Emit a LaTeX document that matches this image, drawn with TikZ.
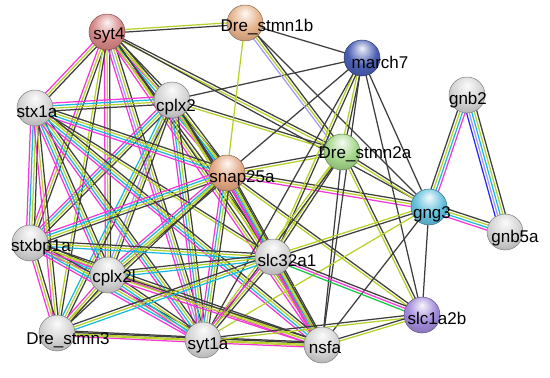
\documentclass[tikz,border=0pt]{standalone}
\usepackage{fontspec}
\setmainfont{Liberation Sans}
\usetikzlibrary{calc}
\definecolor{cx}{RGB}{62,62,62}
\definecolor{tm}{RGB}{182,210,40}
\definecolor{ex}{RGB}{245,55,215}
\definecolor{db}{RGB}{25,185,220}
\definecolor{hm}{RGB}{160,155,250}
\definecolor{nb}{RGB}{20,200,70}
\definecolor{co}{RGB}{40,40,240}
\definecolor{cRed}{RGB}{215,135,135}
\definecolor{cTan}{RGB}{230,178,138}
\definecolor{cNavy}{RGB}{75,95,180}
\definecolor{cGreen}{RGB}{165,215,140}
\definecolor{cPeach}{RGB}{228,168,132}
\definecolor{cCyan}{RGB}{100,192,222}
\definecolor{cPurple}{RGB}{162,138,218}
\definecolor{cGray}{RGB}{212,212,212}
\colorlet{sphcol}{cGray}
\pgfdeclareradialshading[sphcol]{sphere}{\pgfpoint{0bp}{14bp}}{%
  color(0bp)=(sphcol!8!white);
  color(8bp)=(sphcol!45!white);
  color(20bp)=(sphcol);
  color(30bp)=(sphcol!88!black);
  color(40bp)=(sphcol!74!black);
  color(50bp)=(sphcol!62!black);
  color(64bp)=(sphcol!58!black)}
\pgfdeclarelayer{bg}
\pgfsetlayers{bg,main}
\newcommand\lnk[3]{%
  \foreach \ecol [count=\ei] in {#3} {\global\let\enn\ei}%
  \foreach \ecol [count=\ei] in {#3} {%
    \pgfmathsetmacro\eoff{(\ei-(\enn+1)/2)*2.6}%
    \draw[line width=1.25pt,color=\ecol] ($(#1.center)!\eoff pt!90:(#2.center)$) -- ($(#2.center)!\eoff pt!-90:(#1.center)$);%
  }%
}
\begin{document}
\begin{tikzpicture}[x=1pt,y=-1pt,
  sph/.style={circle,minimum size=36pt,inner sep=0pt,shading=sphere,/utils/exec={\colorlet{sphcol}{#1}},draw=#1!60!black,line width=0.5pt},
  lbl/.style={font=\fontsize{17}{17}\selectfont,inner sep=0pt,text=black}]
\useasboundingbox (0,0) rectangle (550,378);
% nodes (spheres)
\node[sph=cRed]    (syt4)    at (107,32)  {};
\node[sph=cTan]    (stmn1b)  at (245,23)  {};
\node[sph=cNavy]   (march7)  at (362,58)  {};
\node[sph=cGray]   (gnb2)    at (467,95)  {};
\node[sph=cGray]   (stx1a)   at (35,108)  {};
\node[sph=cGray]   (cplx2)   at (172,100) {};
\node[sph=cGreen]  (stmn2a)  at (342,152) {};
\node[sph=cPeach]  (snap25a) at (227,173) {};
\node[sph=cCyan]   (gng3)    at (429,207) {};
\node[sph=cGray]   (gnb5a)   at (505,232) {};
\node[sph=cGray]   (slc32a1) at (273,257) {};
\node[sph=cGray]   (stxbp1a) at (30,243)  {};
\node[sph=cGray]   (cplx2l)  at (108,275) {};
\node[sph=cGray]   (stmn3)   at (57,333)  {};
\node[sph=cGray]   (syt1a)   at (203,340) {};
\node[sph=cGray]   (nsfa)    at (322,345) {};
\node[sph=cPurple] (slc1a2b) at (422,315) {};
% labels
\node[lbl] (t-syt4)    at (109,35)  {syt4};
\node[lbl] (t-stmn1b)  at (267,27)  {Dre\_stmn1b};
\node[lbl] (t-march7)  at (380,62)  {march7};
\node[lbl] (t-gnb2)    at (468,100) {gnb2};
\node[lbl] (t-stx1a)   at (37,112)  {stx1a};
\node[lbl] (t-cplx2)   at (176,107) {cplx2};
\node[lbl] (t-stmn2a)  at (365,154) {Dre\_stmn2a};
\node[lbl] (t-snap25a) at (242,178) {snap25a};
\node[lbl] (t-gng3)    at (432,214) {gng3};
\node[lbl] (t-gnb5a)   at (515,238) {gnb5a};
\node[lbl] (t-slc32a1) at (287,260) {slc32a1};
\node[lbl] (t-stxbp1a) at (41,247)  {stxbp1a};
\node[lbl] (t-cplx2l)  at (114,278) {cplx2l};
\node[lbl] (t-stmn3)   at (68,340)  {Dre\_stmn3};
\node[lbl] (t-syt1a)   at (208,345) {syt1a};
\node[lbl] (t-nsfa)    at (325,347) {nsfa};
\node[lbl] (t-slc1a2b) at (437,318) {slc1a2b};
% edges
\begin{pgfonlayer}{bg}
\lnk{syt4}{stmn1b}{cx,tm}
\lnk{syt4}{stx1a}{ex,tm,cx}
\lnk{syt4}{cplx2}{ex,tm,cx}
\lnk{syt4}{snap25a}{ex,db,tm,cx}
\lnk{syt4}{stxbp1a}{ex,tm,cx}
\lnk{syt4}{cplx2l}{ex,tm,cx}
\lnk{syt4}{stmn3}{tm,cx}
\lnk{syt4}{syt1a}{ex,hm,tm,cx}
\lnk{syt4}{slc32a1}{tm,cx}
\lnk{syt4}{nsfa}{ex,tm,cx}
\lnk{syt4}{stmn2a}{tm,cx}
\lnk{syt4}{gng3}{cx}
\lnk{cplx2}{stx1a}{ex,db,tm,cx}
\lnk{cplx2}{snap25a}{ex,db,tm,cx}
\lnk{cplx2}{march7}{cx}
\lnk{cplx2}{stmn2a}{tm,cx}
\lnk{cplx2}{stxbp1a}{ex,db,tm,cx}
\lnk{cplx2}{cplx2l}{hm,tm,cx}
\lnk{cplx2}{syt1a}{ex,db,tm,cx}
\lnk{cplx2}{slc32a1}{tm,cx}
\lnk{cplx2}{stmn3}{db,tm,cx}
\lnk{cplx2}{nsfa}{tm,cx}
\lnk{stx1a}{snap25a}{ex,db,tm,cx}
\lnk{stx1a}{stxbp1a}{ex,db,tm,cx}
\lnk{stx1a}{cplx2l}{ex,db,tm,cx}
\lnk{stx1a}{stmn3}{ex,tm,cx}
\lnk{stx1a}{syt1a}{ex,db,tm,cx}
\lnk{stx1a}{slc32a1}{tm,cx}
\lnk{stx1a}{nsfa}{ex,db,tm,cx}
\lnk{snap25a}{stmn1b}{tm}
\lnk{snap25a}{march7}{cx}
\lnk{snap25a}{stmn2a}{tm,cx}
\lnk{snap25a}{gng3}{ex,tm,cx}
\lnk{snap25a}{stxbp1a}{ex,db,tm,cx}
\lnk{snap25a}{cplx2l}{ex,db,tm,cx}
\lnk{snap25a}{stmn3}{tm,cx}
\lnk{snap25a}{syt1a}{ex,db,tm,cx}
\lnk{snap25a}{slc32a1}{ex,tm,cx}
\lnk{snap25a}{nsfa}{ex,db,tm,cx}
\lnk{snap25a}{slc1a2b}{tm,cx}
\lnk{stmn1b}{march7}{cx}
\lnk{stmn1b}{stmn2a}{hm,tm,cx}
\lnk{stmn1b}{gng3}{cx}
\lnk{march7}{stmn2a}{tm,cx}
\lnk{march7}{slc32a1}{tm,cx}
\lnk{march7}{syt1a}{cx}
\lnk{march7}{nsfa}{cx}
\lnk{march7}{gng3}{cx}
\lnk{march7}{slc1a2b}{cx}
\lnk{stmn2a}{gng3}{tm,cx}
\lnk{stmn2a}{slc32a1}{tm,cx}
\lnk{stmn2a}{syt1a}{tm,cx}
\lnk{stmn2a}{nsfa}{cx}
\lnk{stmn2a}{slc1a2b}{tm,cx}
\lnk{gng3}{gnb2}{ex,db,tm,cx}
\lnk{gng3}{gnb5a}{ex,db,tm,cx}
\lnk{gnb2}{gnb5a}{co,hm,db,tm,cx}
\lnk{gng3}{slc32a1}{tm,cx}
\lnk{gng3}{nsfa}{cx}
\lnk{gng3}{slc1a2b}{cx}
\lnk{gng3}{syt1a}{tm}
\lnk{stxbp1a}{cplx2l}{ex,db,tm,cx}
\lnk{stxbp1a}{stmn3}{ex,tm,cx}
\lnk{stxbp1a}{syt1a}{ex,db,tm,cx}
\lnk{stxbp1a}{slc32a1}{db,tm,cx}
\lnk{stxbp1a}{nsfa}{ex,tm,cx}
\lnk{cplx2l}{stmn3}{ex,tm,cx}
\lnk{cplx2l}{syt1a}{ex,db,tm,cx}
\lnk{cplx2l}{slc32a1}{db,tm,cx}
\lnk{cplx2l}{nsfa}{ex,tm,cx}
\lnk{stmn3}{syt1a}{ex,tm,cx}
\lnk{stmn3}{slc32a1}{db,tm,cx}
\lnk{stmn3}{nsfa}{tm,cx}
\lnk{slc32a1}{syt1a}{ex,tm,cx}
\lnk{slc32a1}{nsfa}{ex,tm,cx}
\lnk{slc32a1}{slc1a2b}{nb,ex,cx}
\lnk{syt1a}{nsfa}{ex,tm,cx}
\lnk{syt1a}{slc1a2b}{tm,cx}
\lnk{nsfa}{slc1a2b}{tm,cx}
\end{pgfonlayer}
\end{tikzpicture}
\end{document}
